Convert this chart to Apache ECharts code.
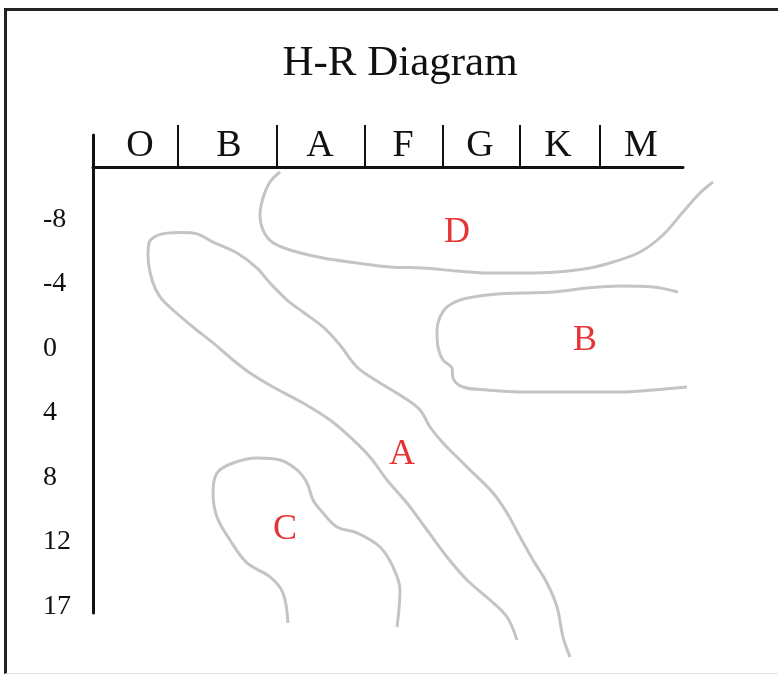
<!DOCTYPE html>
<html>
<head>
<meta charset="utf-8">
<script src="https://cdn.jsdelivr.net/npm/echarts@6/dist/echarts.min.js"></script>
<style>
  html, body { margin: 0; padding: 0; background: #fff; }
  #frame {
    position: absolute; left: 4px; top: 8px; width: 780px; height: 662px;
    border-top: 3px solid #222; border-left: 3px solid #222; border-bottom: 1px solid #e4e4e4;
  }
  #hr-chart { position: absolute; left: 0; top: 0; width: 778px; height: 674px; }
</style>
</head>
<body>
<div id="frame"></div>
<div id="hr-chart"></div>
<script>
// spectral classes along the top, position in class units (0..7)
const spectralClasses = ['O', 'B', 'A', 'F', 'G', 'K', 'M']
const classCenters = [0.558, 1.613, 2.693, 3.678, 4.591, 5.517, 6.501]
const classBounds = [1.008, 2.183, 3.227, 4.152, 5.066, 6.015]

// magnitude labels down the side, one per row
const magnitudeLabels = ['-8', '-4', '0', '4', '8', '12', '17']
const magnitudeRows = [0.04, 1.04, 2.04, 3.04, 4.04, 5.04, 6.04]

// hand drawn region outlines, [class position, row]
const regionD = [
  [2.219, -0.698], [2.100, -0.543], [2.017, -0.295], [1.981, -0.031], [2.017, 0.202],
  [2.124, 0.388], [2.337, 0.512], [2.729, 0.636], [3.132, 0.713], [3.524, 0.775],
  [3.915, 0.791], [4.318, 0.837], [4.710, 0.868], [5.101, 0.868], [5.505, 0.853],
  [5.896, 0.791], [6.169, 0.698], [6.490, 0.543], [6.762, 0.279], [7.000, -0.078],
  [7.201, -0.372], [7.356, -0.543]
]
const regionB = [
  [6.940, 1.163], [6.644, 1.085], [6.252, 1.070], [5.861, 1.101], [5.457, 1.163],
  [5.066, 1.178], [4.674, 1.209], [4.354, 1.287], [4.200, 1.395], [4.117, 1.550],
  [4.081, 1.752], [4.093, 2.016], [4.152, 2.217], [4.259, 2.341], [4.271, 2.496],
  [4.390, 2.636], [4.674, 2.682], [5.066, 2.713], [5.457, 2.713], [5.861, 2.713],
  [6.252, 2.713], [6.644, 2.682], [7.047, 2.636]
]
const regionA = [
  [5.030, 6.558], [4.912, 6.202], [4.710, 5.938], [4.437, 5.628], [4.200, 5.271],
  [3.963, 4.853], [3.725, 4.434], [3.488, 4.078], [3.286, 3.721], [3.049, 3.411],
  [2.812, 3.147], [2.491, 2.884], [2.136, 2.636], [1.863, 2.419], [1.661, 2.217],
  [1.424, 1.953], [1.186, 1.705], [0.949, 1.442], [0.795, 1.240], [0.700, 0.977],
  [0.653, 0.600], [0.665, 0.400], [0.740, 0.300], [0.880, 0.250], [1.050, 0.240],
  [1.234, 0.262], [1.424, 0.388],
  [1.708, 0.558], [1.946, 0.791], [2.100, 1.023], [2.302, 1.287], [2.491, 1.473],
  [2.729, 1.705], [2.930, 1.984], [3.132, 2.326], [3.405, 2.574], [3.678, 2.791],
  [3.880, 2.992], [3.998, 3.256], [4.152, 3.504], [4.354, 3.767], [4.473, 3.922],
  [4.746, 4.279], [4.912, 4.589], [5.066, 4.961], [5.220, 5.318], [5.386, 5.674],
  [5.505, 6.047], [5.576, 6.512], [5.659, 6.822]
]
const regionC = [
  [2.313, 6.295], [2.254, 5.829], [2.100, 5.581], [1.827, 5.364], [1.625, 5.008],
  [1.471, 4.651], [1.424, 4.279], [1.471, 3.969], [1.661, 3.814], [1.946, 3.736],
  [2.219, 3.767], [2.420, 3.922], [2.539, 4.124], [2.610, 4.388], [2.729, 4.589],
  [2.895, 4.806], [3.132, 4.899], [3.405, 5.116], [3.559, 5.426], [3.642, 5.783],
  [3.607, 6.357]
]

// region names and where they are written
const regionNames = ['D', 'B', 'A', 'C']
const regionLabelPos = [[4.318, 0.248], [5.837, 1.922], [3.666, 3.690], [2.278, 4.853]]

const serif = '"Liberation Serif", "Times New Roman", serif'
const chart = echarts.init(document.getElementById('hr-chart'))

// second grid shares the same scale but reaches the page edges, so outlines are never cut
function outline(data) {
  return {
    type: 'line',
    xAxisIndex: 1,
    yAxisIndex: 1,
    data: data,
    smooth: 0.35,
    clip: false,
    silent: true,
    symbol: 'none',
    lineStyle: { color: '#c4c4c4', width: 3 },
  }
}

chart.setOption({
  animation: false,
  title: {
    text: 'H-R Diagram',
    left: 395,
    top: 37,
    textAlign: 'center',
    textStyle: { fontFamily: serif, fontSize: 43, fontWeight: 'normal', color: '#111' },
  },
  grid: [
    { left: 93, right: 95, top: 135, bottom: 61, containLabel: false },
    { left: 93, right: 0, top: 0, bottom: 0, containLabel: false },
  ],
  xAxis: [
    {
      type: 'value',
      gridIndex: 0,
      position: 'top',
      min: 0,
      max: 7,
      offset: -32,
      axisLine: { show: true, onZero: false, lineStyle: { color: '#111', width: 3 } },
      axisTick: { show: true, customValues: classBounds, length: 42, lineStyle: { color: '#111', width: 2 } },
      axisLabel: {
        customValues: classCenters,
        formatter: (v) => {
          let best = 0
          classCenters.forEach((c, i) => { if (Math.abs(c - v) < Math.abs(classCenters[best] - v)) best = i })
          return spectralClasses[best]
        },
        fontFamily: serif,
        fontSize: 38,
        color: '#111',
        margin: 2,
      },
      splitLine: { show: false },
    },
    { type: 'value', gridIndex: 1, min: 0, max: 8.1267, show: false },
  ],
  yAxis: [
    {
      type: 'value',
      gridIndex: 0,
      inverse: true,
      min: -1.27,
      max: 6.14,
      axisLine: { show: true, onZero: false, lineStyle: { color: '#111', width: 3 } },
      axisTick: { show: false },
      axisLabel: {
        customValues: magnitudeRows,
        formatter: (v) => magnitudeLabels[Math.round(v)],
        align: 'left',
        margin: 50,
        fontFamily: serif,
        fontSize: 28,
        color: '#111',
      },
      splitLine: { show: false },
    },
    { type: 'value', gridIndex: 1, inverse: true, min: -3.3643, max: 7.0853, show: false },
  ],
  series: [
    outline(regionD),
    outline(regionB),
    outline(regionA),
    outline(regionC),
    {
      type: 'scatter',
      xAxisIndex: 1,
      yAxisIndex: 1,
      symbolSize: 0,
      silent: true,
      data: regionLabelPos.map((p, i) => ({ name: regionNames[i], value: p })),
      label: {
        show: true,
        position: 'inside',
        formatter: '{b}',
        fontFamily: serif,
        fontSize: 36,
        color: '#e00000',
      },
    },
  ],
})
</script>
</body>
</html>
